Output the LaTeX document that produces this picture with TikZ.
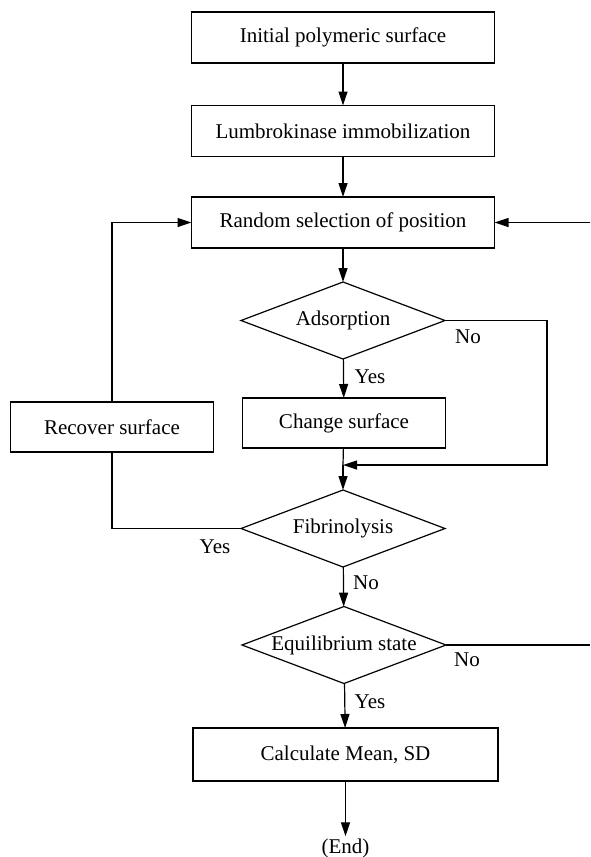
\documentclass[tikz,border=0pt]{standalone}
\usepackage{fontspec}
\setmainfont{Liberation Serif}
\usepackage{tikz}
\usetikzlibrary{arrows.meta, shapes, shapes.geometric, positioning, calc}

\begin{document}
\begin{tikzpicture}[x=1pt, y=-1pt,
    every node/.style={font=\fontsize{21}{25}\selectfont},
    stepbox/.style={shape=rectangle, draw=black, line width=1.2pt, outer sep=0pt, minimum width=303pt, minimum height=51pt},
    sidebox/.style={stepbox, minimum width=203pt, minimum height=50pt},
    decision/.style={shape=diamond, draw=black, line width=1.2pt, outer sep=0pt, minimum width=204pt, minimum height=77pt},
    flow/.style={line width=1.2pt, -{Triangle[length=14pt, width=9pt]}},
    plain/.style={line width=1.2pt}]
    \useasboundingbox (0,0) rectangle (590,857);
    % main column
    \node[stepbox]  (init)   at (343, 37.5) {Initial polymeric surface};
    \node[stepbox]  (immob)  at (343, 131)  {Lumbrokinase immobilization};
    \node[stepbox]  (select) at (343, 222.5){Random selection of position};
    \node[decision, label=center:{Adsorption}]        (ads) at (343, 320.5) {};
    \node[sidebox]  (change) at (344, 423)  {Change surface};
    \node[sidebox]  (recov)  at (112, 427)  {Recover surface};
    \node[decision, label=center:{Fibrinolysis}]      (fib) at (343, 528.5) {};
    \node[decision, label=center:{Equilibrium state}] (equi) at (344, 645) {};
    \node[stepbox, minimum width=305pt, minimum height=53pt] (calc) at (345.5, 754.5) {Calculate Mean, SD};
    \node[inner sep=2pt] (stop) at (345.5, 848) {(End)};
    % loose ends
    \coordinate (join)  at (343, 465);
    \coordinate (backR) at (590, 222.5);
    \coordinate (outR)  at (590, 645);
    % connectors
    \draw[flow]  (init)   -- (immob);
    \draw[flow]  (immob)  -- (select);
    \draw[flow]  (select) -- (ads);
    \draw[flow]  (ads)    -- (change);
    \draw[plain] (change) -- (join);
    \draw[flow]  (ads.east) -- ++(102,0) |- (join);
    \draw[flow]  (join)   -- (fib.north);
    \draw[plain] (fib.west) -| (recov.south);
    \draw[flow]  (recov.north) |- (select.west);
    \draw[flow]  (fib)    -- (equi);
    \draw[plain] (equi.east) -- (outR);
    \draw[flow]  (backR)  -- (select.east);
    \draw[flow]  (equi)   -- (calc);
    \draw[flow]  (calc)   -- (stop);
    % branch labels
    \node at (468, 337) {No};
    \node at (370, 377) {Yes};
    \node at (215, 547) {Yes};
    \node at (366, 583) {No};
    \node at (467, 660) {No};
    \node at (370, 702) {Yes};
\end{tikzpicture}
\end{document}
